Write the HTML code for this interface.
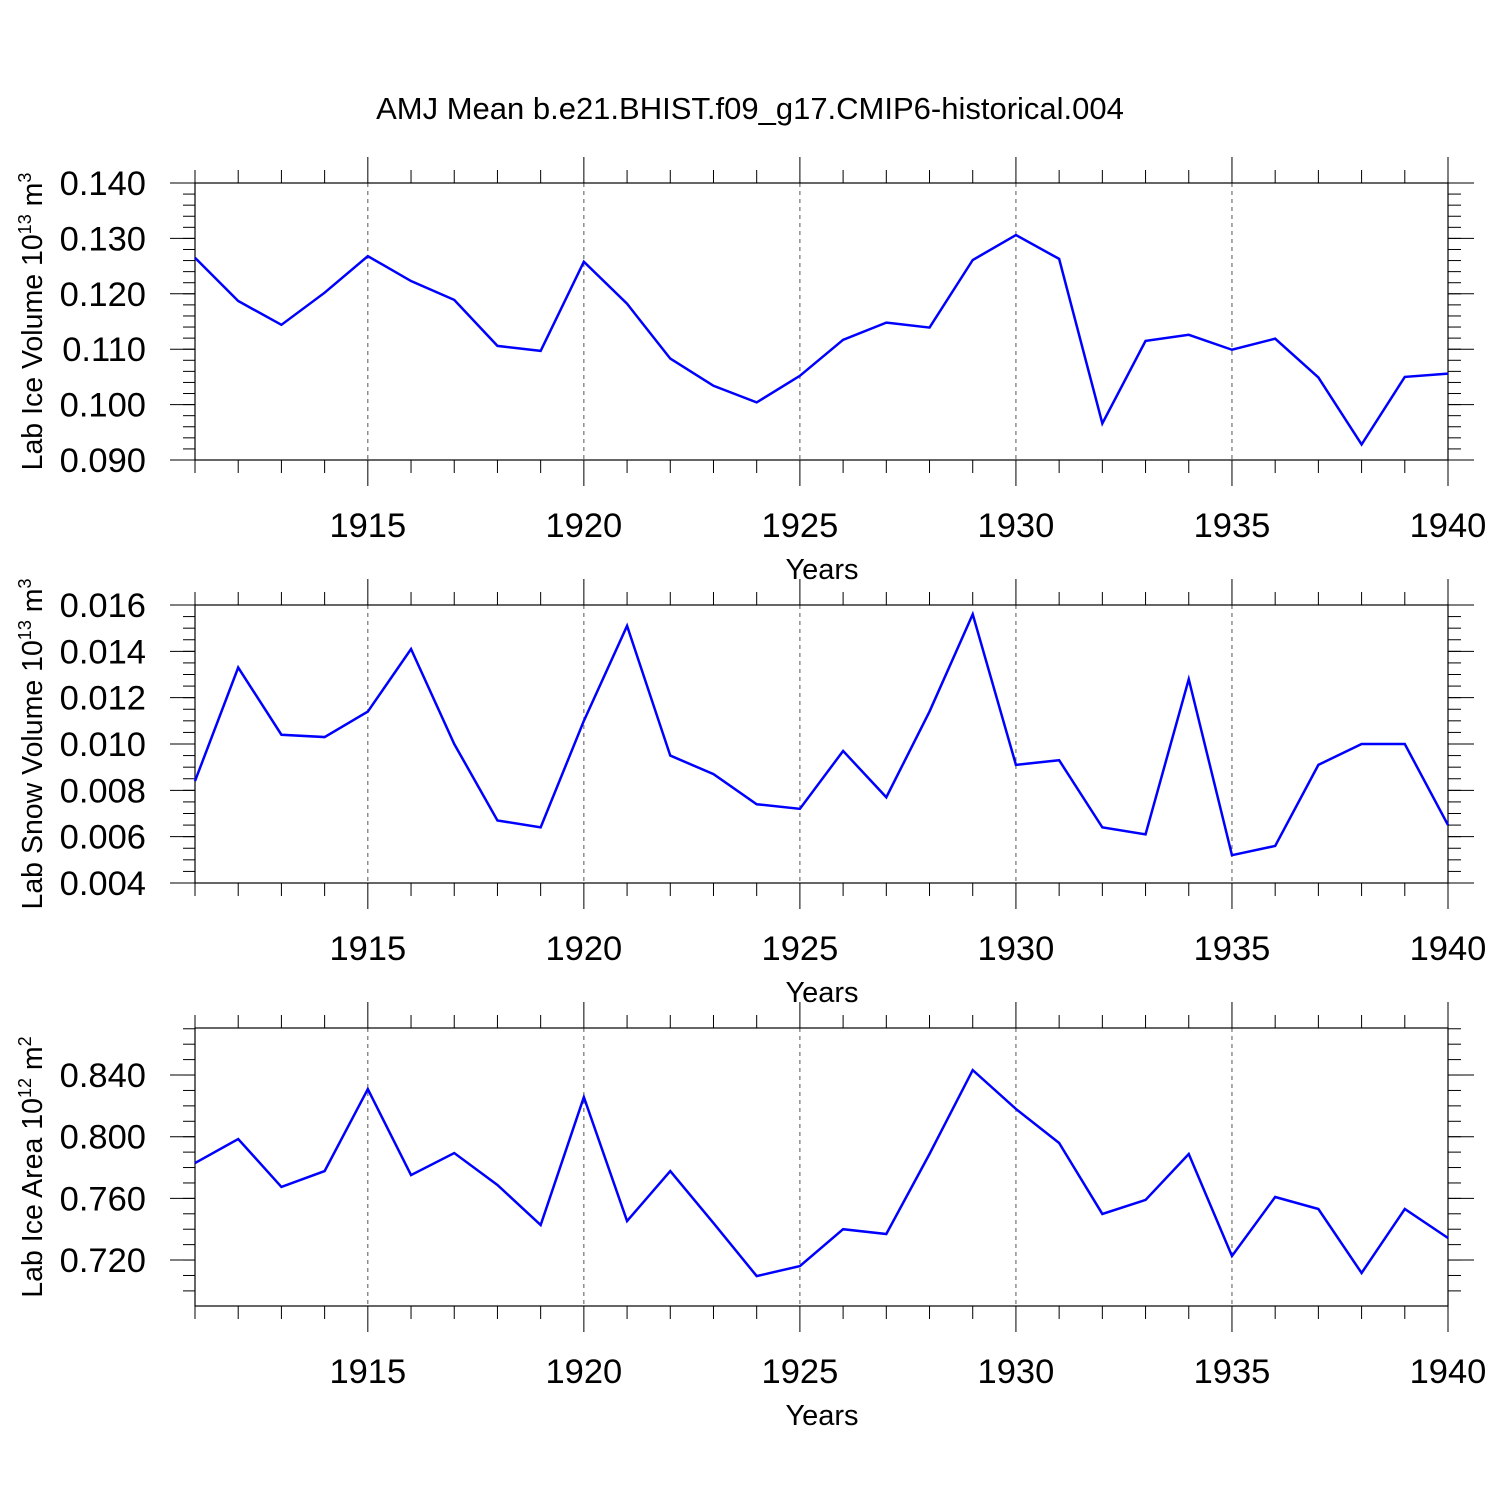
<!DOCTYPE html>
<html><head><meta charset="utf-8"><style>
html,body{margin:0;padding:0;background:#fff;}
svg{display:block;font-family:"Liberation Sans",Arial,sans-serif;}
</style></head><body>
<svg id="chart" width="1500" height="1500" viewBox="0 0 1500 1500">
<rect width="1500" height="1500" fill="#fff"/>
<text x="750" y="119" font-size="31" text-anchor="middle">AMJ Mean b.e21.BHIST.f09_g17.CMIP6-historical.004</text>
</svg>
<script>
const years = [1911,1912,1913,1914,1915,1916,1917,1918,1919,1920,1921,1922,1923,1924,1925,1926,1927,1928,1929,1930,1931,1932,1933,1934,1935,1936,1937,1938,1939,1940];
const iceVolume = [0.1265,0.1187,0.1144,0.1202,0.1268,0.1223,0.1189,0.1106,0.1097,0.1258,0.1182,0.1083,0.1034,0.1004,0.1052,0.1117,0.1148,0.1139,0.1261,0.1306,0.1263,0.0966,0.1115,0.1126,0.1099,0.1119,0.1049,0.0928,0.1050,0.1056];
const snowVolume = [0.0084,0.0133,0.0104,0.0103,0.0114,0.0141,0.0100,0.0067,0.0064,0.0110,0.0151,0.0095,0.0087,0.0074,0.0072,0.0097,0.0077,0.0114,0.0156,0.0091,0.0093,0.0064,0.0061,0.0128,0.0052,0.0056,0.0091,0.0100,0.0100,0.0065];
const iceArea = [0.7829,0.7985,0.7674,0.7777,0.8309,0.7751,0.7894,0.7687,0.7427,0.8257,0.7453,0.7777,0.7440,0.7096,0.7161,0.7400,0.7369,0.7888,0.8432,0.8180,0.7959,0.7499,0.7590,0.7888,0.7226,0.7609,0.7531,0.7116,0.7531,0.7343];
const xTickLabels = ["1915","1920","1925","1930","1935","1940"];
const iceVolTicks = ["0.140","0.130","0.120","0.110","0.100","0.090"];
const snowVolTicks = ["0.016","0.014","0.012","0.010","0.008","0.006","0.004"];
const iceAreaTicks = ["0.840","0.800","0.760","0.720"];

const NS="http://www.w3.org/2000/svg";
const svg=document.getElementById('chart');
function mk(tag,attrs,parent){const e=document.createElementNS(NS,tag);for(const k in attrs)e.setAttribute(k,attrs[k]);(parent||svg).appendChild(e);return e;}
const X0=195,X1=1448;
const xs=y=>X0+(y-1911)*(X1-X0)/(1940-1911);

const panels=[
 {name:'ice-volume',top:183,bot:460,min:0.090,max:0.140,minor:0.002,ticks:iceVolTicks,data:iceVolume,label:'Lab Ice Volume 10',sup:'13',unit:' m',usup:'3'},
 {name:'snow-volume',top:605,bot:883,min:0.004,max:0.016,minor:0.0005,ticks:snowVolTicks,data:snowVolume,label:'Lab Snow Volume 10',sup:'13',unit:' m',usup:'3'},
 {name:'ice-area',top:1028,bot:1306,min:0.6902,max:0.8705,minor:0.01,ticks:iceAreaTicks,data:iceArea,label:'Lab Ice Area 10',sup:'12',unit:' m',usup:'2'}
];
panels.forEach(p=>{
 const g=mk('g',{});
 
 
 const ys=v=>p.bot-(v-p.min)/(p.max-p.min)*(p.bot-p.top);
 for(let yr=1915;yr<=1935;yr+=5){
  const l=mk('line',{x1:xs(yr),x2:xs(yr),y1:p.top,y2:p.bot,stroke:'#555','stroke-width':1,'stroke-dasharray':'4,4'},g);
  
  
 }
 years.forEach(yr=>{
  const len=(yr%5===0)?26:13;
  mk('line',{x1:xs(yr),x2:xs(yr),y1:p.top-len,y2:p.top,stroke:'#000','stroke-width':1},g);
  mk('line',{x1:xs(yr),x2:xs(yr),y1:p.bot,y2:p.bot+len,stroke:'#000','stroke-width':1},g);
 });
 xTickLabels.forEach(t=>{
  const tx=mk('text',{x:xs(+t),y:p.bot+77,'font-size':34.5,'text-anchor':'middle'},g);
  
  
  tx.textContent=t;
 });
 const xt=mk('text',{x:822,y:p.bot+119,'font-size':29,'text-anchor':'middle'},g);
 
 
 xt.textContent='Years';
 const start=Math.ceil(p.min/p.minor-1e-6);
 for(let k=start;k*p.minor<=p.max+1e-9;k++){
  const y=ys(k*p.minor);
  mk('line',{x1:X0-12,x2:X0,y1:y,y2:y,stroke:'#000','stroke-width':1},g);
  mk('line',{x1:X1,x2:X1+13,y1:y,y2:y,stroke:'#000','stroke-width':1},g);
 }
 p.ticks.forEach(t=>{
  const y=ys(+t);
  mk('line',{x1:X0-25,x2:X0,y1:y,y2:y,stroke:'#000','stroke-width':1},g);
  mk('line',{x1:X1,x2:X1+26,y1:y,y2:y,stroke:'#000','stroke-width':1},g);
  const tx=mk('text',{x:146,y:y+12,'font-size':34.5,'text-anchor':'end'},g);
  
  
  tx.textContent=t;
 });
 mk('rect',{x:X0,y:p.top,width:X1-X0,height:p.bot-p.top,fill:'none',stroke:'#000','stroke-width':1.2},g);
 const cy=(p.top+p.bot)/2;
 const yt=mk('text',{x:0,y:0,'font-size':28.5,'text-anchor':'middle',transform:`translate(42,${cy}) rotate(-90)`},g);
 
 
 const a=mk('tspan',{},yt);a.textContent=p.label;
 const b=mk('tspan',{dy:-11,'font-size':18},yt);b.textContent=p.sup;
 const c=mk('tspan',{dy:11},yt);c.textContent=p.unit;
 const d=mk('tspan',{dy:-11,'font-size':18},yt);d.textContent=p.usup;
 const pts=p.data.map((v,i)=>xs(years[i])+','+ys(v)).join(' ');
 const pl=mk('polyline',{points:pts,fill:'none',stroke:'#0000ff','stroke-width':2.5,'stroke-linejoin':'miter'},g);
 
 
});
</script>
</body></html>
